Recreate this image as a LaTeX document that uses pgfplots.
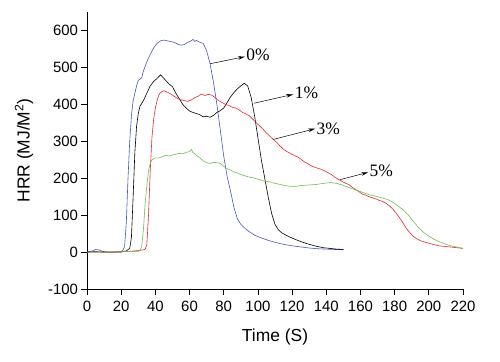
\documentclass[border=0pt]{standalone}
\usepackage{pgfplots}
\pgfplotsset{compat=1.18}
\usepackage{fontspec}
\setmainfont{Liberation Sans}
\newfontfamily\serif{Liberation Serif}
\usetikzlibrary{arrows.meta}
\definecolor{cblue}{RGB}{75,85,190}
\definecolor{cred}{RGB}{230,40,50}
\definecolor{cgreen}{RGB}{110,190,80}
\begin{document}
\begin{tikzpicture}
\begin{axis}[
 scale only axis, width=376bp, height=277bp,
 xmin=0, xmax=220, ymin=-100, ymax=650,
 axis x line=bottom, axis y line=left,
 axis line style={-, line width=0.7pt},
 xtick={0,20,...,220}, ytick={-100,0,...,600},
 tick align=outside, major tick length=5.5bp,
 tick style={black, line width=0.7pt},
 ticklabel style={font=\fontsize{15}{17}\selectfont},
 xticklabel style={yshift=-3bp},
 /pgf/number format/assume math mode=true,
 xlabel={Time (S)}, ylabel={HRR (MJ/M\textsuperscript{2})},
 label style={font=\fontsize{17.5}{20}\selectfont},
 xlabel style={yshift=-10bp},
 ylabel style={yshift=8bp},
 every axis plot/.append style={line width=0.6pt},
 clip=false,
]
\coordinate (O) at (rel axis cs:0,0);
% 0%
\addplot[cblue] coordinates {(0,0) (3,3) (5,7) (7,6) (9,2) (12,0) (15,0) (18,1) (20,2) (21,5) (22,15) (23,80) (24,200) (25,300) (26,370) (27,410) (28,430) (29,450) (30,465) (31,468) (32,472) (33,490) (35,515) (37,535) (39,553) (41,565) (43,572) (45,574) (47,572) (49,570) (51,568) (53,563) (55,560) (57,562) (59,568) (61,572) (62,576) (63,570) (64,573) (66,568) (68,565) (70,545) (72,510) (74,460) (76,400) (78,330) (80,260) (82,204) (84,165) (86,120) (88,90) (90,75) (92,66) (95,55) (98,46) (101,40) (104,35) (108,29) (112,24) (116,20) (120,17) (125,14) (130,11) (135,9) (140,8) (145,7) (150,7)};
% 1%
\addplot[black] coordinates {(0,0) (5,1) (10,0) (15,0) (20,0) (23,3) (25,10) (26,40) (27,150) (28,270) (29,340) (30,375) (31,395) (32,402) (33,410) (35,430) (37,450) (39,462) (41,470) (43,480) (44,475) (46,465) (48,455) (50,448) (52,430) (54,415) (56,400) (58,390) (60,382) (62,378) (64,375) (66,372) (68,366) (70,368) (72,365) (74,370) (76,378) (78,383) (80,390) (82,405) (84,420) (86,432) (88,442) (90,450) (92,457) (94,450) (96,420) (98,370) (100,310) (102,250) (104,200) (106,150) (108,105) (110,75) (112,60) (114,52) (118,42) (122,34) (126,27) (130,21) (134,16) (138,12) (142,10) (146,8) (150,7)};
% 3%
\addplot[cred] coordinates {(0,0) (10,0) (20,1) (25,2) (30,4) (33,6) (34,8) (35,20) (36,100) (37,220) (38,310) (39,360) (40,390) (41,410) (42,425) (43,432) (45,437) (47,433) (49,428) (51,422) (53,416) (55,412) (57,410) (59,408) (61,412) (63,418) (65,422) (67,428) (69,424) (71,427) (73,425) (75,418) (77,410) (79,405) (81,400) (83,397) (85,392) (87,390) (89,385) (91,378) (93,374) (95,369) (97,360) (99,350) (101,342) (103,333) (105,322) (107,314) (109,305) (111,297) (113,287) (115,278) (117,272) (119,267) (121,262) (123,258) (125,252) (127,245) (129,240) (131,234) (133,230) (135,227) (137,224) (139,220) (141,215) (143,210) (145,203) (147,197) (149,192) (151,187) (153,183) (155,176) (157,170) (159,164) (161,157) (163,154) (165,150) (167,147) (169,144) (171,140) (173,137) (175,132) (177,125) (179,116) (181,105) (183,92) (185,78) (187,63) (189,52) (191,42) (193,36) (195,31) (197,28) (200,24) (203,20) (206,17) (210,15) (214,13) (218,11) (220,10)};
% 5%
\addplot[cgreen] coordinates {(0,0) (10,0) (20,1) (25,1) (30,2) (31,4) (32,15) (33,60) (34,130) (35,180) (36,220) (37,240) (38,250) (40,255) (42,255) (44,258) (46,262) (48,260) (50,263) (52,265) (54,267) (56,266) (58,270) (60,272) (61,278) (62,270) (64,262) (66,255) (68,247) (70,242) (72,240) (74,243) (76,242) (78,240) (80,232) (82,226) (84,222) (86,217) (88,214) (90,210) (92,207) (95,203) (98,200) (101,196) (104,192) (107,190) (110,186) (113,183) (116,180) (119,178) (122,178) (125,180) (128,181) (131,182) (134,183) (137,185) (140,187) (143,188) (146,186) (149,182) (152,177) (155,172) (158,167) (161,162) (164,157) (167,153) (170,150) (173,146) (176,142) (179,135) (182,125) (185,114) (188,100) (191,83) (194,66) (197,53) (200,43) (203,35) (206,28) (209,23) (212,18) (215,15) (218,12) (220,10)};
% annotations
\begin{scope}[-{Stealth[length=7bp,width=3.5bp]}, line width=0.5pt, black]
\draw (axis cs:72,510) -- (axis cs:92.4,529);
\draw (axis cs:97.7,403) -- (axis cs:120.7,427);
\draw (axis cs:109,305) -- (axis cs:133.5,334);
\draw (axis cs:148,196) -- (axis cs:164.6,216);
\end{scope}
\begin{scope}[every node/.style={anchor=west, inner sep=0.5bp, font=\serif\fontsize{17.5}{19}\selectfont}]
\node at (axis cs:92.8,535) {0\%};
\node at (axis cs:121.2,430) {1\%};
\node at (axis cs:134,335) {3\%};
\node at (axis cs:165,219) {5\%};
\end{scope}
\end{axis}
\pgfresetboundingbox
\path (O) ++(-87bp,-73bp) rectangle ++(500bp,362bp);
\end{tikzpicture}
\end{document}
